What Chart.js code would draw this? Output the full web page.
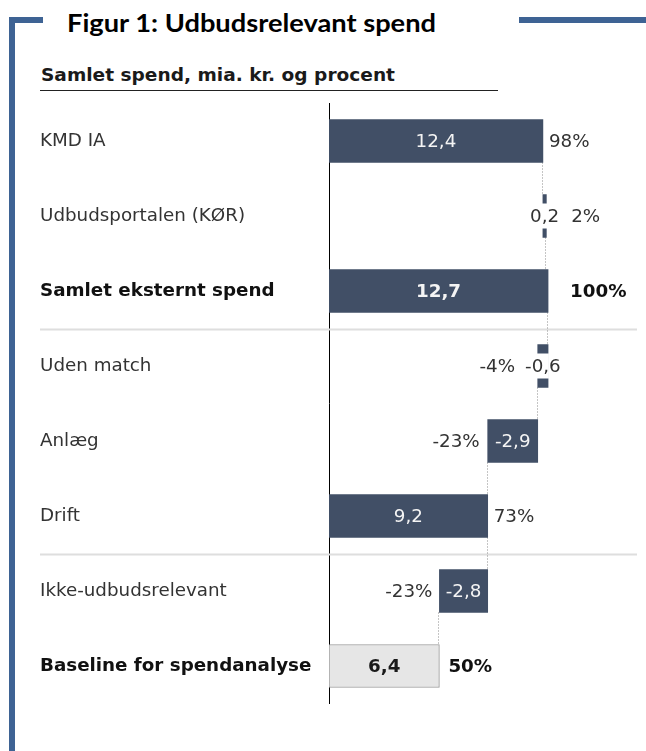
<!DOCTYPE html>
<html><head><meta charset="utf-8">
<script src="https://cdn.jsdelivr.net/npm/chart.js@4.4.1/dist/chart.umd.min.js"></script>
<style>
html,body{margin:0;padding:0;background:#fff;width:646px;height:751px;overflow:hidden;position:relative}
.fr{position:absolute;background:#3e6394}
#title{position:absolute;left:67px;top:7px;font:bold 25px Lato,'Open Sans',sans-serif;color:#000;white-space:nowrap;transform-origin:0 0}
#sub{position:absolute;left:41px;top:65px;font:bold 17.5px 'DejaVu Sans',sans-serif;color:#1a1a1a;white-space:nowrap;transform-origin:0 0}
#rule{position:absolute;left:40px;top:90px;width:458px;height:1px;background:#222}
#wrap{position:absolute;left:40px;top:100px;width:606px;height:610px}
</style>
</head><body>
<div class="fr" style="left:9px;top:17px;width:6px;height:734px"></div>
<div class="fr" style="left:9px;top:17px;width:34px;height:6px"></div>
<div class="fr" style="left:519px;top:17px;width:127px;height:6px"></div>
<div id="title">Figur 1: Udbudsrelevant spend</div>
<div id="sub">Samlet spend, mia. kr. og procent</div>
<div id="rule"></div>
<div id="wrap"><canvas id="c"></canvas></div>
<script>
// ---- data ----
const categories = ['KMD IA','Udbudsportalen (KØR)','Samlet eksternt spend','Uden match','Anlæg','Drift','Ikke-udbudsrelevant','Baseline for spendanalyse'];
const values = [12.4, 0.2, 12.7, -0.6, -2.9, 9.2, -2.8, 6.4];
const barKinds = ['delta','delta','total','delta','delta','total','delta','total'];
const pctLabels = ['98%','2%','100%','-4%','-23%','73%','-23%','50%'];

// ---- styles ----
const boldRows = [2,7];
const lightRows = [7];
const separatorsAfter = [2,5];
const pctGap = [6,12,22,10,8,6,7,9];
const DARK = '#414f66';
const FONT = 'DejaVu Sans';
const FS = 18.3;

// waterfall ranges from values
let level = 0;
const ranges = [], levels = [];
values.forEach((v,i)=>{
  if (barKinds[i]==='total'){ ranges.push([0,v]); level=v; }
  else { ranges.push([level, level+v]); level = level+v; }
  levels.push(level);
});
const fmt = v => v.toFixed(1).replace('.',',');

const annot = {
  id:'annot',
  beforeDatasetsDraw(chart){
    const ctx=chart.ctx, meta=chart.getDatasetMeta(0), xs=chart.scales.x;
    ctx.save();
    ctx.strokeStyle='#dedede'; ctx.lineWidth=2;
    separatorsAfter.forEach(i=>{
      const y=Math.round((meta.data[i].y+meta.data[i+1].y)/2)+0.5;
      ctx.beginPath(); ctx.moveTo(0,y); ctx.lineTo(597,y); ctx.stroke();
    });
    ctx.strokeStyle='#8a8a8a'; ctx.lineWidth=1; ctx.setLineDash([1,2]);
    for(let i=0;i<meta.data.length-1;i++){
      const a=meta.data[i], b=meta.data[i+1];
      const x=Math.round(xs.getPixelForValue(levels[i]))-0.5;
      ctx.beginPath(); ctx.moveTo(x,a.y+a.height/2); ctx.lineTo(x,b.y-b.height/2); ctx.stroke();
    }
    ctx.restore();
  },
  afterDatasetsDraw(chart){
    const ctx=chart.ctx, meta=chart.getDatasetMeta(0);
    ctx.save();
    ctx.textBaseline='middle';
    meta.data.forEach((el,i)=>{
      const left=Math.min(el.x,el.base), right=Math.max(el.x,el.base), w=right-left, cy=el.y;
      const bold=boldRows.includes(i), light=lightRows.includes(i);
      ctx.font=(bold?'bold ':'')+FS+'px "'+FONT+'"';
      const txt=fmt(values[i]); const tw=ctx.measureText(txt).width;
      let vL,vR;
      ctx.textAlign='center';
      if (w>=tw+8){
        ctx.fillStyle= light?'#1a1a1a':'#f4f4f4';
        ctx.fillText(txt,(left+right)/2,cy+1);
        vL=left; vR=right;
      } else {
        const cx=(left+right)/2;
        ctx.fillStyle='#fff';
        ctx.fillRect(cx-6,cy-12.5,12,25);
        ctx.fillStyle='#333';
        ctx.fillText(txt,cx,cy+1);
        vL=cx-tw/2; vR=cx+tw/2;
      }
      ctx.fillStyle= bold?'#111':'#333';
      if (values[i]>=0){ ctx.textAlign='left'; ctx.fillText(pctLabels[i], vR+pctGap[i], cy+1); }
      else { ctx.textAlign='right'; ctx.fillText(pctLabels[i], vL-pctGap[i], cy+1); }
    });
    ctx.restore();
  }
};

new Chart(document.getElementById('c'),{
  type:'bar',
  data:{labels:categories,datasets:[{
    data:ranges,
    backgroundColor:categories.map((c,i)=>lightRows.includes(i)?'#e6e6e6':DARK),
    borderColor:categories.map((c,i)=>lightRows.includes(i)?'#9a9a9a':DARK),
    borderWidth:categories.map((c,i)=>lightRows.includes(i)?1:0),
    borderSkipped:false,
    barThickness:43
  }]},
  options:{
    indexAxis:'y',
    responsive:true, maintainAspectRatio:false, animation:false,
    layout:{padding:{left:0,right:41,top:3.5,bottom:6.5}},
    plugins:{legend:{display:false},tooltip:{enabled:false}},
    scales:{
      x:{display:false,min:0,max:16},
      y:{
        grid:{display:false},
        border:{display:true,color:'#000',width:1},
        afterFit(s){ s.width=289; s.paddingTop=0; s.paddingBottom=0; },
        ticks:{
          crossAlign:'far', padding:0,
          color:c=>boldRows.includes(c.index)?'#111':'#333',
          font:c=>({family:FONT,size:FS,weight:boldRows.includes(c.index)?'bold':'normal'})
        }
      }
    }
  },
  plugins:[annot]
});
// fit header text widths
function fit(id,w){const e=document.getElementById(id);const cw=e.getBoundingClientRect().width;e.style.transform='scaleX('+(w/cw)+')';}
fit('title',369);
fit('sub',354);
</script>
</body></html>
